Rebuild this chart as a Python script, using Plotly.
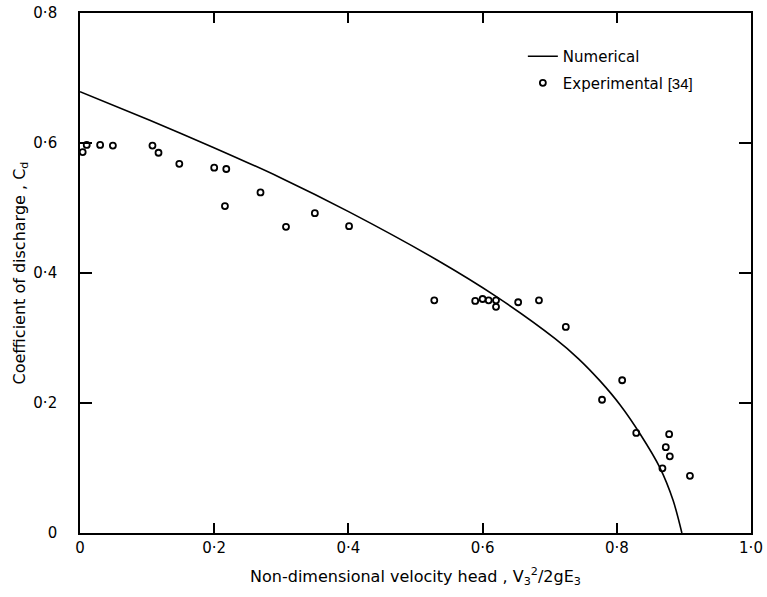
import plotly.graph_objects as go

# Numerical curve
num_x = [0.0, 0.104, 0.197, 0.298, 0.401, 0.532, 0.620, 0.708, 0.743, 0.775, 0.805, 0.835, 0.864, 0.884, 0.897]
num_y = [0.679, 0.635, 0.594, 0.547, 0.494, 0.420, 0.364, 0.299, 0.268, 0.234, 0.197, 0.152, 0.101, 0.050, 0.0]

# Experimental points [34]
exp_x = [0.004, 0.010, 0.030, 0.049, 0.108, 0.117, 0.148, 0.200, 0.218, 0.216, 0.269, 0.307, 0.350, 0.401,
         0.528, 0.589, 0.600, 0.609, 0.620, 0.620, 0.653, 0.684, 0.724,
         0.778, 0.808, 0.829, 0.878, 0.873, 0.879, 0.868, 0.909]
exp_y = [0.586, 0.597, 0.597, 0.596, 0.596, 0.585, 0.568, 0.562, 0.560, 0.503, 0.524, 0.471, 0.492, 0.472,
         0.358, 0.357, 0.360, 0.358, 0.358, 0.348, 0.355, 0.358, 0.317,
         0.205, 0.235, 0.154, 0.152, 0.132, 0.118, 0.0995, 0.088]

x_ticks = [0, 0.2, 0.4, 0.6, 0.8, 1.0]
x_ticktext = ["0", "0·2", "0·4", "0·6", "0·8", "1·0"]
y_ticks = [0, 0.2, 0.4, 0.6, 0.8]
y_ticktext = ["0", "0·2", "0·4", "0·6", "0·8"]

FONT = "DejaVu Sans"

fig = go.Figure()
fig.add_trace(go.Scatter(x=num_x, y=num_y, mode="lines", name="Numerical", legendgroup="a",
                         line=dict(color="black", width=1.6, shape="spline", smoothing=0.8)))
fig.add_trace(go.Scatter(x=exp_x, y=exp_y, mode="markers", legendgroup="b",
                         name="Experimental <span style='font-family:Liberation Sans'>[34]</span>",
                         marker=dict(symbol="circle-open", size=6, color="black", line=dict(width=1.8))))

axis_common = dict(showline=True, linecolor="black", linewidth=1.6, mirror="ticks",
                   ticks="inside", tickwidth=1.5, tickcolor="black",
                   showgrid=False, zeroline=False,
                   tickfont=dict(family=FONT, size=15, color="black"))

fig.update_layout(
    width=767, height=597,
    margin=dict(l=80, r=16, t=13, b=64),
    paper_bgcolor="white", plot_bgcolor="white",
    font=dict(family=FONT, size=15, color="black"),
    xaxis=dict(range=[0, 1.0], tickvals=x_ticks, ticktext=x_ticktext, ticklen=10,
               automargin=False,
               title=dict(text="Non-dimensional velocity head , V<sub>3</sub><sup>2</sup>/2gE<sub>3</sub>",
                          font=dict(family=FONT, size=16)),
               **axis_common),
    yaxis=dict(range=[0, 0.8], tickvals=y_ticks, ticktext=y_ticktext, ticklen=12,
               automargin="left",
               title=dict(text="Coefficient of discharge , C<sub>d</sub>",
                          font=dict(family=FONT, size=16), standoff=4),
               ticklabelstandoff=18,
               **axis_common),
    showlegend=True,
    legend=dict(x=0.66, y=0.948, xanchor="left", yanchor="top",
                bgcolor="rgba(0,0,0,0)", borderwidth=0,
                font=dict(family=FONT, size=15), tracegroupgap=4),
)

fig.write_html("out.html", config={"displayModeBar": False},
               post_script="document.body.style.margin='0';document.body.style.overflow='hidden';")
